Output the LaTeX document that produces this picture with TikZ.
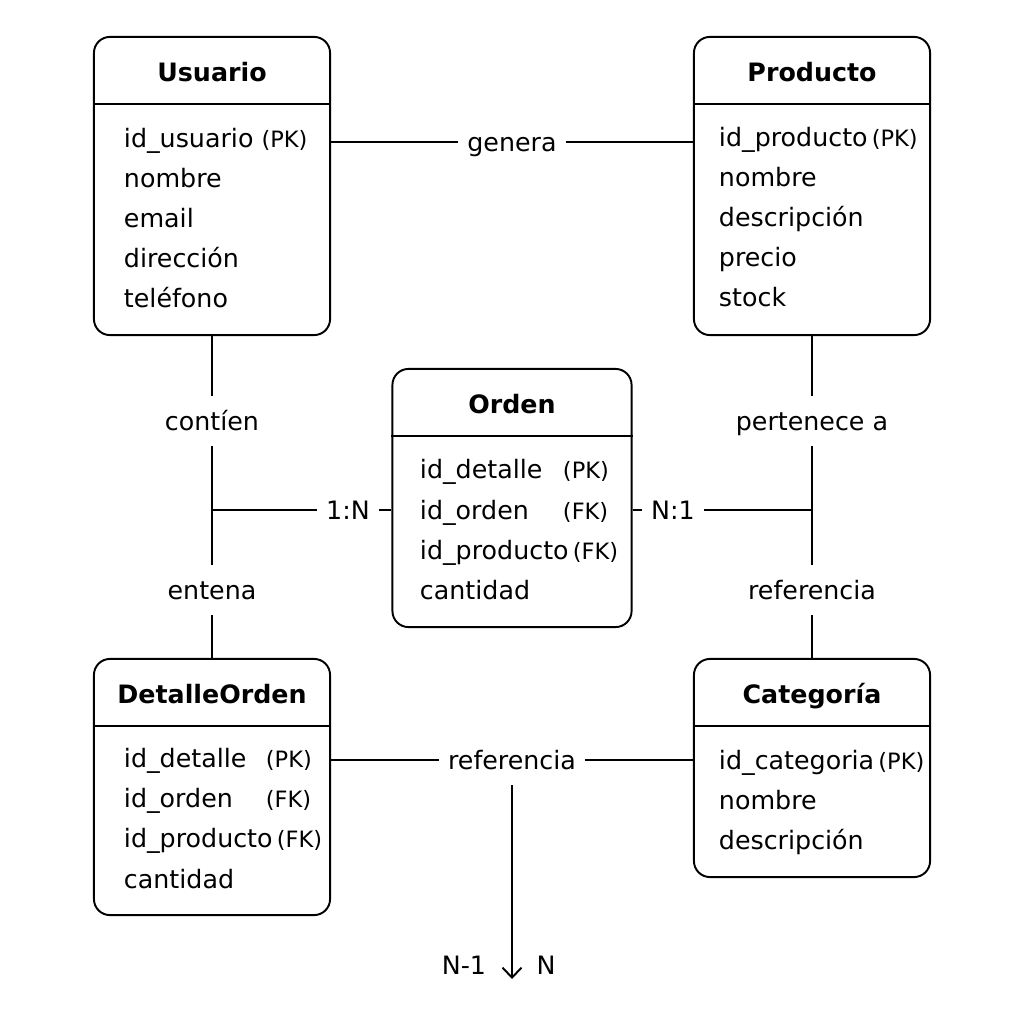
\documentclass[tikz,border=0pt]{standalone}
\usepackage{fontspec}
\setmainfont{DejaVu Sans}
\usetikzlibrary{positioning,arrows.meta}

\newcommand{\pk}[1]{{\fontsize{6.4}{7}\selectfont #1}}

\begin{document}
\begin{tikzpicture}[x=0.01cm,y=-0.01cm,line width=0.55pt]
\tikzstyle{every node}+=[inner sep=0pt]
\tikzstyle{entity}=[draw, rounded corners=0.16cm, minimum width=2.36cm]
\tikzstyle{enttitle}=[font=\fontsize{7.2}{8}\selectfont\bfseries, minimum width=2.36cm, minimum height=0.66cm, text height=2.4mm, text depth=0pt, anchor=north]
\tikzstyle{attr}=[anchor=west, font=\fontsize{7.2}{8}\selectfont, text height=1.9mm, text depth=0.55mm, yshift=-0.3mm]
\tikzstyle{rel}=[font=\fontsize{7.2}{8}\selectfont, text height=2.2mm, text depth=0.25mm, inner xsep=0.08cm, inner ysep=0.12cm]
\useasboundingbox (0,0) rectangle (1024,1024);
% Usuario
\node[entity, minimum height=2.98cm] (usuario) at (212,186) {};
\node[enttitle] (usuariot) at (usuario.north) {Usuario};
\draw (usuariot.south west) -- (usuariot.south east);
\node[attr] (u1) at (123,138) {id\_usuario \pk{(PK)}};
\node[attr] (u2) at (123,178) {nombre};
\node[attr] (u3) at (123,218) {email};
\node[attr] (u4) at (123,258) {dirección};
\node[attr] (u5) at (123,298) {teléfono};
% Producto
\node[entity, minimum height=2.98cm] (producto) at (812,186) {};
\node[enttitle] (productot) at (producto.north) {Producto};
\draw (productot.south west) -- (productot.south east);
\node[attr] (p1) at (718,137) {id\_producto\,\pk{(PK)}};
\node[attr] (p2) at (718,177) {nombre};
\node[attr] (p3) at (718,217) {descripción};
\node[attr] (p4) at (718,257) {precio};
\node[attr] (p5) at (718,297) {stock};
% Orden
\node[entity, minimum width=2.39cm, minimum height=2.58cm] (orden) at (512,498) {};
\node[enttitle, minimum width=2.39cm] (ordent) at (orden.north) {Orden};
\draw (ordent.south west) -- (ordent.south east);
\node[attr] (o1) at (419,469) {id\_detalle};
\node[attr] (o1k) at (562,469) {\pk{(PK)}};
\node[attr] (o2) at (419,510) {id\_orden};
\node[attr] (o2k) at (562,510) {\pk{(FK)}};
\node[attr] (o3) at (419,550) {id\_producto\,\pk{(FK)}};
\node[attr] (o4) at (419,590) {cantidad};
% DetalleOrden
\node[entity, minimum height=2.56cm] (detalle) at (212,787) {};
\node[enttitle] (detallet) at (detalle.north) {DetalleOrden};
\draw (detallet.south west) -- (detallet.south east);
\node[attr] (d1) at (123,758) {id\_detalle};
\node[attr] (d1k) at (265,758) {\pk{(PK)}};
\node[attr] (d2) at (123,798) {id\_orden};
\node[attr] (d2k) at (265,798) {\pk{(FK)}};
\node[attr] (d3) at (123,838) {id\_producto\,\pk{(FK)}};
\node[attr] (d4) at (123,879) {cantidad};
% Categoria
\node[entity, minimum height=2.18cm] (categoria) at (812,768) {};
\node[enttitle] (categoriat) at (categoria.north) {Categoría};
\draw (categoriat.south west) -- (categoriat.south east);
\node[attr] (c1) at (718,760) {id\_categoria\,\pk{(PK)}};
\node[attr] (c2) at (718,800) {nombre};
\node[attr] (c3) at (718,840) {descripción};
% relaciones
\node[rel] (genera) at (512,142) {genera};
\draw (usuario.east |- genera) -- (genera) -- (producto.west |- genera);
\coordinate (jl) at (212,510);
\node[rel] (contien) at (212,421) {contíen};
\node[rel] (entena) at (212,590) {entena};
\draw (usuario) -- (contien) -- (jl) -- (entena) -- (detalle);
\node[rel] (unon) at (348,510) {1:N};
\draw (jl) -- (unon) -- (orden.west |- unon);
\coordinate (jr) at (812,510);
\node[rel] (pertenece) at (812,421) {pertenece a};
\node[rel] (referencia) at (812,590) {referencia};
\draw (producto) -- (pertenece) -- (jr) -- (referencia) -- (categoria);
\node[rel] (nuno) at (673,510) {N:1};
\draw (orden.east |- nuno) -- (nuno) -- (jr);
\node[rel] (referencia2) at (512,760) {referencia};
\draw (detalle.east |- referencia2) -- (referencia2) -- (categoria.west |- referencia2);
\coordinate (fin) at (512,979);
\draw[-{Straight Barb[length=1mm,width=1.9mm]}] (referencia2) -- (fin);
\node[rel] (nmenos) at (464,965) {N-1};
\node[rel] (nfin) at (546,965) {N};
\end{tikzpicture}
\end{document}
